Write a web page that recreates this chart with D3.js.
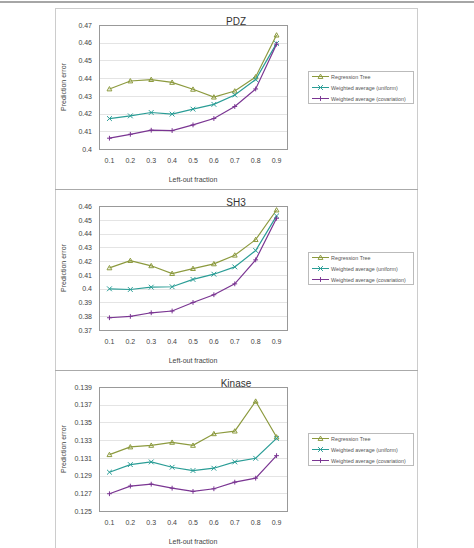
<!DOCTYPE html>
<html>
<head>
<meta charset="utf-8">
<script src="https://cdn.jsdelivr.net/npm/d3@7"></script>
<style>
  body { margin: 0; background: #fff; }
  svg text { font-family: "Liberation Sans", Arial, sans-serif; }
</style>
</head>
<body>
<div id="chart"></div>
<script>
// data
const fractions = ['0.1', '0.2', '0.3', '0.4', '0.5', '0.6', '0.7', '0.8', '0.9']
const seriesNames = ['Regression Tree', 'Weighted average (uniform)', 'Weighted average (covariation)']

const pdzTree = [0.4339, 0.4384, 0.4392, 0.4376, 0.4337, 0.4293, 0.4327, 0.4407, 0.4643]
const pdzUniform = [0.4172, 0.4187, 0.4206, 0.4197, 0.4225, 0.4252, 0.4305, 0.4392, 0.4596]
const pdzCov = [0.4061, 0.4083, 0.4106, 0.4104, 0.4136, 0.4172, 0.4240, 0.4339, 0.4592]
const pdzTicks = [0.4, 0.41, 0.42, 0.43, 0.44, 0.45, 0.46, 0.47]

const sh3Tree = [0.4151, 0.4204, 0.4166, 0.4110, 0.4146, 0.4180, 0.4243, 0.4356, 0.4571]
const sh3Uniform = [0.3999, 0.3994, 0.4011, 0.4014, 0.4067, 0.4105, 0.4158, 0.4277, 0.4528]
const sh3Cov = [0.3789, 0.3799, 0.3825, 0.3838, 0.3900, 0.3956, 0.4035, 0.4209, 0.4511]
const sh3Ticks = [0.37, 0.38, 0.39, 0.4, 0.41, 0.42, 0.43, 0.44, 0.45, 0.46]

const kinaseTree = [0.13136, 0.13223, 0.13241, 0.13275, 0.13241, 0.13372, 0.13402, 0.13739, 0.13335]
const kinaseUniform = [0.12938, 0.13024, 0.13054, 0.12994, 0.12957, 0.12983, 0.13054, 0.13095, 0.13320]
const kinaseCov = [0.12695, 0.12781, 0.12803, 0.12758, 0.12721, 0.12751, 0.12826, 0.12871, 0.13125]
const kinaseTicks = [0.125, 0.127, 0.129, 0.131, 0.133, 0.135, 0.137, 0.139]

const colors = ['#8c9a3e', '#2a9d96', '#7a3592']
const markers = ['triangle', 'times', 'plus']

const panels = [
  { title: 'PDZ', series: [pdzTree, pdzUniform, pdzCov], ticks: pdzTicks, fmt: d3.format('~g') },
  { title: 'SH3', series: [sh3Tree, sh3Uniform, sh3Cov], ticks: sh3Ticks, fmt: d3.format('~g') },
  { title: 'Kinase', series: [kinaseTree, kinaseUniform, kinaseCov], ticks: kinaseTicks, fmt: d3.format('.3f') }
]

const width = 474, height = 548
const svg = d3.select('#chart').append('svg')
  .attr('width', width)
  .attr('height', height)

// top rule and outer frame
svg.append('line')
  .attr('x1', 0).attr('x2', width).attr('y1', 2).attr('y2', 2)
  .attr('stroke', '#888').attr('stroke-width', 1.5)
svg.append('rect')
  .attr('x', 55.5).attr('y', 8.5).attr('width', 362).attr('height', 560)
  .attr('fill', 'none').attr('stroke', '#ccc')

const panelTops = [8, 189, 370]
const plotLeft = 99, plotRight = 287, plotOffset = 17, plotHeight = 124

function drawMarker(g, type, x, y, color) {
  const s = 2.4
  let d
  if (type == 'triangle') {
    d = `M${x},${y - s}L${x + s},${y + s * 0.8}L${x - s},${y + s * 0.8}Z`
  } else if (type == 'times') {
    d = `M${x - s},${y - s}L${x + s},${y + s}M${x - s},${y + s}L${x + s},${y - s}`
  } else {
    d = `M${x - s},${y}L${x + s},${y}M${x},${y - s}L${x},${y + s}`
  }
  g.append('path').attr('d', d)
    .attr('fill', 'none').attr('stroke', color).attr('stroke-width', 1)
}

panels.forEach((p, i) => {
  const top = panelTops[i]
  if (i > 0) {
    svg.append('line')
      .attr('x1', 55).attr('x2', 418).attr('y1', top + 0.5).attr('y2', top + 0.5)
      .attr('stroke', '#aaa')
  }
  const g = svg.append('g').attr('transform', 'translate(0,' + top + ')')
  const y0 = plotOffset, y1 = plotOffset + plotHeight

  const x = d3.scaleBand().domain(fractions).range([plotLeft, plotRight])
  const y = d3.scaleLinear()
    .domain([p.ticks[0], p.ticks[p.ticks.length - 1]])
    .range([y1, y0])

  // gridlines
  g.selectAll('line.grid')
    .data(p.ticks)
    .enter().append('line')
    .attr('x1', plotLeft).attr('x2', plotRight)
    .attr('y1', d => Math.round(y(d)) + 0.5).attr('y2', d => Math.round(y(d)) + 0.5)
    .attr('stroke', '#e4e4e4')

  g.append('rect')
    .attr('x', plotLeft + 0.5).attr('y', y0 + 0.5)
    .attr('width', plotRight - plotLeft).attr('height', plotHeight)
    .attr('fill', 'none').attr('stroke', '#999')

  // y axis labels
  const yAxis = g.append('g')
    .attr('transform', 'translate(' + plotLeft + ',0)')
    .call(d3.axisLeft(y).tickValues(p.ticks).tickFormat(p.fmt).tickSize(0).tickPadding(7))
  yAxis.select('.domain').remove()
  yAxis.selectAll('text').attr('font-size', 7).attr('fill', '#444')

  // x axis labels
  const xAxis = g.append('g')
    .attr('transform', 'translate(0,' + y1 + ')')
    .call(d3.axisBottom(x).tickSize(0).tickPadding(9))
  xAxis.select('.domain').remove()
  xAxis.selectAll('text').attr('font-size', 7).attr('fill', '#444')

  g.append('text')
    .attr('x', (plotLeft + plotRight) / 2).attr('y', y1 + 33)
    .attr('text-anchor', 'middle').attr('font-size', 7).attr('fill', '#444')
    .text('Left-out fraction')

  g.append('text')
    .attr('transform', 'translate(66,' + (y0 + y1) / 2 + ')rotate(-90)')
    .attr('text-anchor', 'middle').attr('font-size', 7).attr('fill', '#444')
    .text('Prediction error')

  g.append('text')
    .attr('x', 236).attr('y', 17)
    .attr('text-anchor', 'middle').attr('font-size', 10).attr('fill', '#333')
    .text(p.title)

  const line = d3.line()
    .x((d, j) => x(fractions[j]) + x.bandwidth() / 2)
    .y(d => y(d))

  p.series.forEach((vals, k) => {
    g.append('path')
      .datum(vals)
      .attr('d', line)
      .attr('fill', 'none')
      .attr('stroke', colors[k])
      .attr('stroke-width', 1.2)
    vals.forEach((v, j) => {
      drawMarker(g, markers[k], x(fractions[j]) + x.bandwidth() / 2, y(v), colors[k])
    })
  })

  // legend
  const lg = g.append('g').attr('transform', 'translate(308,63)')
  lg.append('rect')
    .attr('x', 0.5).attr('y', 0.5).attr('width', 105).attr('height', 32)
    .attr('fill', '#fff').attr('stroke', '#bbb')
  seriesNames.forEach((name, k) => {
    const ly = 5.5 + k * 11
    lg.append('line')
      .attr('x1', 4).attr('x2', 21).attr('y1', ly).attr('y2', ly)
      .attr('stroke', colors[k]).attr('stroke-width', 1)
    drawMarker(lg, markers[k], 12.5, ly, colors[k])
    lg.append('text')
      .attr('x', 23).attr('y', ly + 2)
      .attr('font-size', 5.4).attr('fill', '#555')
      .text(name)
  })
})
</script>
</body>
</html>
